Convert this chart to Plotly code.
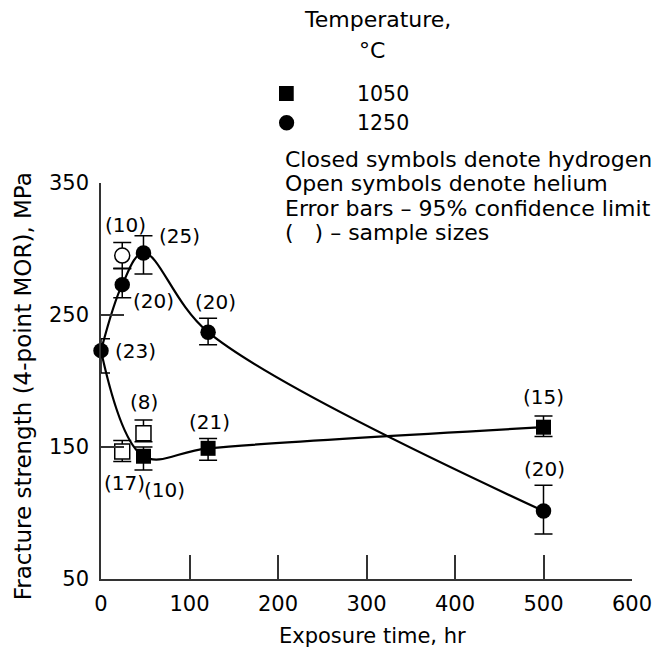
import plotly.graph_objects as go

# ---------------- data ----------------
hours_h1250 = [0, 24, 48, 121, 500]
mor_h1250 = [223, 273, 297, 237, 101.5]
err_up_h1250 = [9, 12, 13, 10.5, 19.5]
err_dn_h1250 = [17, 10, 16, 9.5, 17.5]
n_h1250 = ["(23)", "(20)", "(25)", "(20)", "(20)"]

hours_he1250 = [24]
mor_he1250 = [295]
err_up_he1250 = [10]
err_dn_he1250 = [9.5]
n_he1250 = ["(10)"]

hours_h1050 = [0, 48, 121, 500]
mor_h1050 = [223, 143, 149, 165]
err_up_h1050 = [0, 7, 7.5, 8.5]
err_dn_h1050 = [0, 10.5, 9, 7]
n_h1050 = [None, "(10)", "(21)", "(15)"]

hours_he1050 = [24, 48]
mor_he1050 = [146.5, 160.4]
err_up_he1050 = [8.5, 10]
err_dn_he1050 = [7.5, 6.5]
n_he1050 = ["(17)", "(8)"]

x_ticks = [0, 100, 200, 300, 400, 500, 600]
y_ticks = [50, 150, 250, 350]

legend_temps = ["1050", "1250"]
notes = [
    "Closed symbols denote hydrogen",
    "Open symbols denote helium",
    "Error bars \u2013 95% confidence limit",
    "(   ) \u2013 sample sizes",
]

# ---------------- layout geometry ----------------
W, H = 664, 658
ML, MR, MT, MB = 101, 23, 183, 79
PW, PH = W - ML - MR, H - MT - MB
FONT = "DejaVu Sans"
INK = "black"


def px(xp):
    return (xp - ML) / PW


def py(yp):
    return (H - MB - yp) / PH


fig = go.Figure()

# smooth curves (hydrogen)
fig.add_trace(go.Scatter(x=hours_h1250, y=mor_h1250, mode="lines",
                         line=dict(color=INK, width=2.2, shape="spline", smoothing=1.0),
                         hoverinfo="skip", cliponaxis=False))
fig.add_trace(go.Scatter(x=hours_h1050, y=mor_h1050, mode="lines",
                         line=dict(color=INK, width=2.2, shape="spline", smoothing=1.0),
                         hoverinfo="skip", cliponaxis=False))


def err(up, dn):
    return dict(type="data", symmetric=False, array=up, arrayminus=dn,
                color=INK, thickness=1.5, width=9)


# open symbols (helium)
fig.add_trace(go.Scatter(x=hours_he1250, y=mor_he1250, mode="markers",
                         marker=dict(symbol="circle", size=15, color="white",
                                     line=dict(color=INK, width=1.5)),
                         error_y=err(err_up_he1250, err_dn_he1250), cliponaxis=False))
fig.add_trace(go.Scatter(x=hours_he1050, y=mor_he1050, mode="markers",
                         marker=dict(symbol="square", size=15, color="white",
                                     line=dict(color=INK, width=1.5)),
                         error_y=err(err_up_he1050, err_dn_he1050), cliponaxis=False))

# closed symbols (hydrogen)
fig.add_trace(go.Scatter(x=hours_h1050[1:], y=mor_h1050[1:], mode="markers",
                         marker=dict(symbol="square", size=15, color=INK),
                         error_y=err(err_up_h1050[1:], err_dn_h1050[1:]), cliponaxis=False))
fig.add_trace(go.Scatter(x=hours_h1250, y=mor_h1250, mode="markers",
                         marker=dict(symbol="circle", size=15.5, color=INK),
                         error_y=err(err_up_h1250, err_dn_h1250), cliponaxis=False))

ann = []


def lab(x, y, t, dx, dy):
    ann.append(dict(x=x, y=y, xref="x", yref="y", text=t, showarrow=False,
                    xshift=dx, yshift=dy, font=dict(family=FONT, size=20, color=INK)))


# sample size labels
shifts_h1250 = [(34, 0), (31, -16), (36, 17), (7, 30), (1, 42)]
for x, y, t, (dx, dy) in zip(hours_h1250, mor_h1250, n_h1250, shifts_h1250):
    lab(x, y, t, dx, dy)
lab(hours_he1250[0], mor_he1250[0], n_he1250[0], 3, 31)
shifts_h1050 = [None, (21, -34), (1, 26), (0, 30)]
for x, y, t, s in zip(hours_h1050, mor_h1050, n_h1050, shifts_h1050):
    if t:
        lab(x, y, t, s[0], s[1])
shifts_he1050 = [(2, -31), (1, 31)]
for x, y, t, (dx, dy) in zip(hours_he1050, mor_he1050, n_he1050, shifts_he1050):
    lab(x, y, t, dx, dy)


def ptext(xp, yp, t, xa="left", size=22):
    ann.append(dict(x=px(xp), y=py(yp), xref="paper", yref="paper", text=t,
                    showarrow=False, xanchor=xa, yanchor="middle",
                    font=dict(family=FONT, size=size, color=INK)))


# key block
ptext(382, 19, "Temperature,", "center", 22)
ptext(377, 50, "\u00b0C", "center", 22)
ptext(359, 94, legend_temps[0], "left", 20.5)
ptext(359, 123, legend_temps[1], "left", 20.5)
for i, t in enumerate(notes):
    ptext(286, 160 + 24 * i, t, "left", 22)

# axis titles
ann.append(dict(x=px(22), y=py(386), xref="paper", yref="paper",
                text="Fracture strength (4-point MOR), MPa", textangle=-90,
                showarrow=False, xanchor="center", yanchor="middle",
                font=dict(family=FONT, size=23, color=INK)))
ann.append(dict(x=px(377), y=py(636), xref="paper", yref="paper",
                text="Exposure time, hr", showarrow=False,
                xanchor="center", yanchor="middle",
                font=dict(family=FONT, size=21, color=INK)))

shapes = [
    dict(type="rect", xref="paper", yref="paper", x0=px(282), x1=px(297),
         y0=py(101), y1=py(86), fillcolor=INK, line=dict(width=0)),
    dict(type="circle", xref="paper", yref="paper", x0=px(282), x1=px(297.5),
         y0=py(130.5), y1=py(115), fillcolor=INK, line=dict(width=0)),
]

fig.update_layout(
    width=W, height=H, margin=dict(l=ML, r=MR, t=MT, b=MB),
    paper_bgcolor="white", plot_bgcolor="white", showlegend=False,
    font=dict(family=FONT, size=21, color=INK),
    annotations=ann, shapes=shapes,
    xaxis=dict(range=[0, 600], tickvals=x_ticks, ticks="inside", ticklen=24,
               tickwidth=1.5, tickcolor="#333", showline=True, linecolor="#333",
               linewidth=1.5, showgrid=False, zeroline=False, ticklabelstandoff=5,
               tickfont=dict(family=FONT, size=21, color=INK)),
    yaxis=dict(range=[50, 350], tickvals=y_ticks, ticks="inside", ticklen=23,
               tickwidth=1.5, tickcolor="#333", showline=True, linecolor="#333",
               linewidth=1.5, showgrid=False, zeroline=False, ticklabelstandoff=6,
               tickfont=dict(family=FONT, size=21, color=INK)),
)

fig.write_html("out.html")
